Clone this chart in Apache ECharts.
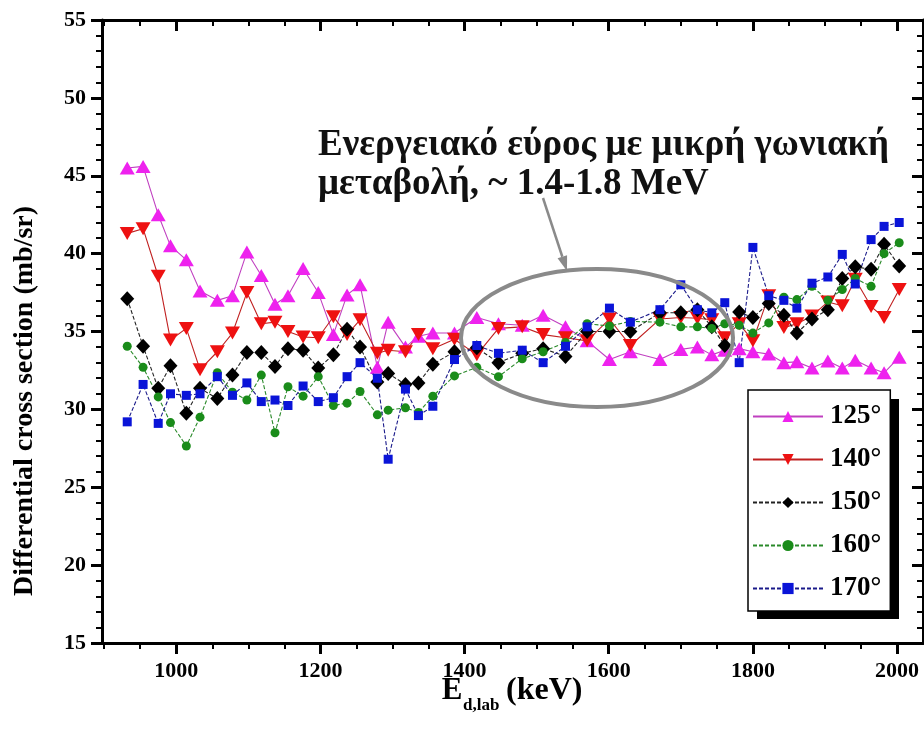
<!DOCTYPE html>
<html><head><meta charset="utf-8">
<script src="https://cdn.jsdelivr.net/npm/echarts@6/dist/echarts.min.js"></script>
<style>html,body{margin:0;padding:0;background:#fff}#c{width:924px;height:742px}</style>
</head><body><div id="c"></div>
<script>
// Energies (keV)
const energies = [932, 954, 975, 992, 1014, 1033, 1057, 1078, 1098, 1118,
  1137, 1155, 1176, 1197, 1218, 1237, 1255, 1279, 1294, 1318,
  1336, 1356, 1386, 1417, 1447, 1480, 1509, 1540, 1570, 1601,
  1630, 1671, 1700, 1723, 1743, 1761, 1781, 1800, 1822, 1843,
  1861, 1882, 1904, 1924, 1942, 1964, 1982, 2003];
const s125 = [45.5, 45.6, 42.5, 40.5, 39.6, 37.6, 37.0, 37.3, 40.1, 38.6,
  36.75, 37.3, 39.05, 37.5, 34.8, 37.35, 38.0, 32.7, 35.6, 34.0,
  34.7, 34.9, 34.9, 35.9, 35.5, 35.4, 36.05, 35.3, 34.4, 33.2,
  33.7, 33.2, 33.85, 34.0, 33.5, 33.8, 33.9, 33.7, 33.55, 33.0,
  33.05, 32.65, 33.1, 32.65, 33.15, 32.65, 32.35, 33.35];
const s140 = [41.3, 41.6, 38.55, 34.45, 35.2, 32.55, 33.7, 34.9, 37.5, 35.5,
  35.6, 35.0, 34.65, 34.6, 35.95, 34.8, 35.75, 33.6, 33.8, 33.7,
  34.8, 33.9, 34.5, 33.5, 35.2, 35.3, 34.8, 34.6, 34.4, 35.8,
  34.1, 35.8, 35.9, 35.85, 35.75, 34.6, 35.5, 34.4, 37.3, 35.25,
  35.5, 36.0, 36.9, 36.65, 38.35, 36.6, 35.9, 37.7];
const s150 = [37.1, 34.05, 31.35, 32.8, 29.75, 31.35, 30.7, 32.2, 33.65, 33.65,
  32.75, 33.9, 33.8, 32.65, 33.5, 35.15, 34.0, 31.75, 32.3, 31.6,
  31.7, 32.9, 33.7, 33.95, 33.0, 33.6, 33.9, 33.4, 35.0, 35.0,
  35.0, 36.2, 36.2, 36.4, 35.3, 34.1, 36.25, 35.9, 36.8, 36.05,
  34.9, 35.8, 36.4, 38.4, 39.15, 39.0, 40.6, 39.2];
const s160 = [34.05, 32.7, 30.8, 29.15, 27.65, 29.5, 32.35, 31.1, 30.6, 32.2,
  28.5, 31.45, 30.85, 32.1, 30.25, 30.4, 31.15, 29.65, 29.95, 30.1,
  29.8, 30.85, 32.15, 32.7, 32.1, 33.25, 33.7, 34.3, 35.5, 35.35,
  35.65, 35.6, 35.3, 35.3, 35.2, 35.5, 35.4, 34.9, 35.55, 37.2,
  37.05, 37.9, 37.0, 37.7, 38.4, 37.9, 40.0, 40.7];
const s170 = [29.2, 31.6, 29.1, 31.0, 30.9, 31.0, 32.1, 30.9, 31.7, 30.5,
  30.6, 30.25, 31.5, 30.5, 30.75, 32.1, 33.0, 32.0, 26.8, 31.3,
  29.6, 30.2, 33.2, 34.1, 33.6, 33.8, 33.0, 34.05, 35.3, 36.5,
  35.6, 36.4, 38.0, 36.4, 36.2, 36.85, 33.0, 40.4, 37.3, 37.0,
  36.5, 38.1, 38.5, 39.95, 38.05, 40.9, 41.75, 42.0];
const seriesNames = ['125°', '140°', '150°', '160°', '170°'];
const xMajorTicks = [1000, 1200, 1400, 1600, 1800, 2000];
const xMinorTicks = [900, 950, 1050, 1100, 1150, 1250, 1300, 1350, 1450, 1500, 1550, 1650, 1700, 1750, 1850, 1900, 1950];
const yTickLabels = ['15', '20', '25', '30', '35', '40', '45', '50', '55'];

const FONT = '"Liberation Serif", "Times New Roman", serif';
const chart = echarts.init(document.getElementById('c'), null, {renderer: 'canvas'});
const pairs = arr => energies.map((e, i) => [e, arr[i]]);

const grid = {left: 102, right: 1, top: 20, bottom: 99, containLabel: false};
const XMIN = 897, XMAX = 2036;
const axisLine = {show: true, onZero: false, lineStyle: {color: '#000', width: 3}};

function xAxisDef(pos, major, inside, labels) {
  return {
    type: 'value', position: pos, min: XMIN, max: XMAX,
    axisLine: major ? axisLine : {show: false},
    splitLine: {show: false},
    axisTick: {show: true, inside: inside, length: major ? 11 : 6,
      lineStyle: {color: '#000', width: major ? 3 : 2},
      customValues: major ? xMajorTicks : xMinorTicks},
    axisLabel: labels ? {show: true, customValues: xMajorTicks, margin: 17,
      formatter: v => String(Math.round(v)),
      fontFamily: FONT, fontWeight: 'bold', fontSize: 22, color: '#000'} : {show: false}
  };
}
function yAxisDef(pos, inside, labels) {
  return {
    type: 'value', position: pos, min: 15, max: 55, interval: 5,
    axisLine: axisLine, splitLine: {show: false},
    axisTick: {show: true, inside: inside, length: 11, lineStyle: {color: '#000', width: 3}},
    minorTick: {show: true, splitNumber: 5, length: 6, lineStyle: {color: '#000', width: 2}},
    axisLabel: labels ? {show: true, margin: 16, fontFamily: FONT, fontWeight: 'bold', fontSize: 22, color: '#000',
      formatter: v => yTickLabels[Math.round((v - 15) / 5)] || ''} : {show: false}
  };
}

function mk(name, data, symbol, size, mColor, lColor, dashed, rot) {
  return {
    name: name, type: 'line', xAxisIndex: 0, yAxisIndex: 0, data: pairs(data),
    symbol: symbol, symbolSize: size, symbolRotate: rot || 0, showSymbol: true,
    itemStyle: {color: mColor, borderWidth: 0},
    lineStyle: {color: lColor, width: 1.1, type: dashed ? [4, 2] : 'solid'},
    emphasis: {disabled: true}, z: 3
  };
}

// arrow geometry
const a0 = [543, 198], a1 = [567, 271];
const dx = a1[0] - a0[0], dy = a1[1] - a0[1], L = Math.hypot(dx, dy);
const ux = dx / L, uy = dy / L, hl = 15, hw = 5;
const bx = a1[0] - ux * hl, by = a1[1] - uy * hl;

chart.setOption({
  animation: false,
  backgroundColor: '#fff',
  grid: grid,
  xAxis: [
    xAxisDef('bottom', true, false, true),
    xAxisDef('bottom', false, false, false),
    xAxisDef('top', true, true, false),
    xAxisDef('top', false, true, false)
  ],
  yAxis: [yAxisDef('left', false, true), yAxisDef('right', true, false)],
  legend: {
    orient: 'vertical', left: 748, top: 390, z: 6,
    data: seriesNames,
    itemWidth: 70, itemHeight: 14, itemGap: 16,
    padding: [13, 9, 9, 4],
    backgroundColor: '#fff', borderColor: '#000', borderWidth: 1.5,
    textStyle: {fontFamily: FONT, fontWeight: 'bold', fontSize: 27, color: '#000', padding: [0, 0, 0, 2]},
    selectedMode: false
  },
  series: [
    mk('125°', s125, 'triangle', [15, 13], '#ee22ee', '#c040c0', false),
    mk('140°', s140, 'triangle', [15, 13], '#ee1111', '#c02020', false, 180),
    mk('150°', s150, 'diamond', [14, 15], '#000000', '#222222', true),
    mk('160°', s160, 'circle', 9, '#1a8c1a', '#2a8a2a', true),
    mk('170°', s170, 'rect', 9, '#0a14d8', '#1a1a8a', true)
  ],
  graphic: {elements: [
    {type: 'rect', z: 1, shape: {x: 757, y: 399, width: 142, height: 220},
      style: {fill: '#000'}},
    {type: 'text', x: 25, y: 401, rotation: Math.PI / 2, z: 10,
      style: {text: 'Differential cross section (mb/sr)', font: 'bold 28px ' + FONT,
        textAlign: 'center', textVerticalAlign: 'middle', fill: '#000'}},
    {type: 'text', x: 452, y: 691, z: 10,
      style: {text: 'E', font: 'bold 31px ' + FONT, textAlign: 'center', textVerticalAlign: 'middle', fill: '#000'}},
    {type: 'text', x: 463, y: 706, z: 10,
      style: {text: 'd,lab', font: 'bold 17px ' + FONT, textAlign: 'left', textVerticalAlign: 'middle', fill: '#000'}},
    {type: 'text', x: 506, y: 691, z: 10,
      style: {text: '(keV)', font: 'bold 32px ' + FONT, textAlign: 'left', textVerticalAlign: 'middle', fill: '#000'}},
    {type: 'text', x: 318, y: 145, z: 10,
      style: {text: 'Ενεργειακό εύρος με μικρή γωνιακή', font: 'bold 37px ' + FONT,
        textAlign: 'left', textVerticalAlign: 'middle', fill: '#111'}},
    {type: 'text', x: 318, y: 184, z: 10,
      style: {text: 'μεταβολή, ~ 1.4-1.8 MeV', font: 'bold 37px ' + FONT,
        textAlign: 'left', textVerticalAlign: 'middle', fill: '#111'}},
    {type: 'ellipse', z: 9, shape: {cx: 597, cy: 338, rx: 136, ry: 69},
      style: {fill: null, stroke: '#8a8a8a', lineWidth: 4}},
    {type: 'line', z: 9, shape: {x1: a0[0], y1: a0[1], x2: bx, y2: by},
      style: {stroke: '#8a8a8a', lineWidth: 2.5}},
    {type: 'polygon', z: 9, shape: {points: [[a1[0], a1[1]],
      [bx + uy * hw, by - ux * hw], [bx - uy * hw, by + ux * hw]]},
      style: {fill: '#8a8a8a'}}
  ]}
});
</script></body></html>
